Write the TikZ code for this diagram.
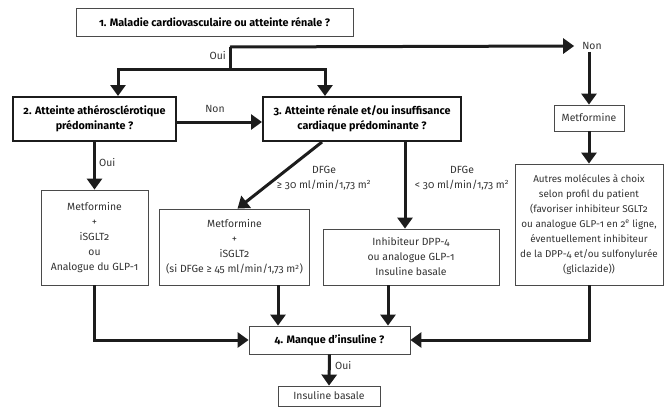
\documentclass[tikz,border=0pt]{standalone}
\usepackage{fontspec}
\setmainfont{Fira Sans}[Numbers=OldStyle]
\usetikzlibrary{arrows.meta, positioning}
\definecolor{trait}{HTML}{1C1C1C}
\definecolor{bord}{HTML}{4A4A4A}
\definecolor{texte}{HTML}{333333}
\newcommand{\taille}{\fontsize{10.4}{15}\selectfont}
\newcommand{\petit}{\fontsize{9.9}{15}\selectfont}
\newcommand{\titre}{\fontsize{10.8}{15}\selectfont\bfseries}

\begin{document}
\begin{tikzpicture}[x=1pt, y=-1pt,
    boite/.style={draw=bord, line width=0.8pt, align=center, text=texte, inner sep=0pt, font=\taille},
    question/.style={boite, text=black, font=\titre},
    qforte/.style={question, draw=trait, line width=2pt},
    etiq/.style={text=texte, align=center, inner sep=2pt, font=\taille},
    ligne/.style={draw=trait, line width=3pt},
    fleche/.style={ligne, -{Triangle[width=15pt,length=11pt]}}]

        % Cadre de l'image
        \useasboundingbox (0,0) rectangle (665,407);

        % Questions
        \node[question, minimum width=277, minimum height=28] (q1) at (214.5,22) {1. Maladie cardiovasculaire ou atteinte rénale ?};
        \node[qforte, minimum width=163, minimum height=44] (q2) at (94.5,119) {2. Atteinte athérosclérotique\\prédominante ?};
        \node[qforte, minimum width=198, minimum height=44] (q3) at (362,119) {3. Atteinte rénale et/ou insuffisance\\cardiaque prédominante ?};
        \node[question, minimum width=161, minimum height=28] (q4) at (329.5,340) {4. Manque d’insuline ?};

        % Traitements
        \node[boite, minimum width=70, minimum height=26] (metfo) at (589,118) {Metformine};
        \node[boite, minimum width=107, minimum height=95] (tA) at (94.5,237.5) {Metformine\\+\\iSGLT2\\ou\\Analogue du GLP-1};
        \node[boite, minimum width=150, minimum height=76] (tB) at (234.5,247) {Metformine\\+\\iSGLT2\\(si DFGe ≥ 45 ml/min/1,73 m\textsuperscript{2})};
        \node[boite, minimum width=176, minimum height=56] (tC) at (411,257) {Inhibiteur DPP-4\\ou analogue GLP-1\\Insuline basale};
        \node[boite, font=\petit, minimum width=148, minimum height=121] (tD) at (589,224.5) {Autres molécules à choix\\selon profil du patient\\(favoriser inhibiteur SGLT2\\ou analogue GLP-1 en 2\textsuperscript{e} ligne,\\éventuellement inhibiteur\\de la DPP-4 et/ou sulfonylurée\\(gliclazide))};
        \node[boite, minimum width=102, minimum height=20] (insu) at (329,396) {Insuline basale};

        % Etiquettes
        \node[etiq, anchor=east] (oui1) at (228,56) {Oui};
        \node[etiq] (non1) at (592,46) {Non};
        \node[etiq] (non2) at (215,109) {Non};
        \node[etiq, anchor=west] (oui2) at (97,163) {Oui};
        \node[etiq] (dfg1) at (324,178) {DFGe\\≥ 30 ml/min/1,73 m\textsuperscript{2}};
        \node[etiq] (dfg2) at (462,178) {DFGe\\< 30 ml/min/1,73 m\textsuperscript{2}};
        \node[etiq, anchor=west] (oui3) at (333,366) {Oui};

        % Embranchement sous la question 1
        \coordinate (split) at (230,47);
        \coordinate (fork) at (230,69);
        \draw[ligne] (split) -- (fork);
        \draw[fleche] (fork) -| ([xshift=23.5]q2.north);
        \draw[fleche] (fork) -| ([xshift=-37]q3.north);
        \draw[fleche] (split) -- ([xshift=-6]non1.west);
        \draw[fleche] (non1.south -| metfo.north) -- (metfo.north);
        \draw[fleche] (metfo.south) -- (tD.north);

        % Questions 2 et 3
        \draw[fleche] ([yshift=-3]q2.east) -- ([yshift=-3]q3.west);
        \draw[fleche] (q2.south) -- (tA.north);
        \draw[fleche] ([xshift=-40]q3.south) -- ([xshift=3]tB.north);
        \draw[fleche] ([xshift=43]q3.south) -- ([xshift=43]q3.south |- tC.north);

        % Vers la question 4
        \draw[fleche] (tA.south) |- (q4.west);
        \draw[fleche] ([xshift=43.5]tB.south) -- ([xshift=43.5]tB.south |- q4.north);
        \draw[fleche] ([xshift=-23]tC.south) -- ([xshift=-23]tC.south |- q4.north);
        \draw[fleche] (tD.south) |- (q4.east);
        \draw[fleche] (q4.south) -- (insu.north);

    \end{tikzpicture}
\end{document}
